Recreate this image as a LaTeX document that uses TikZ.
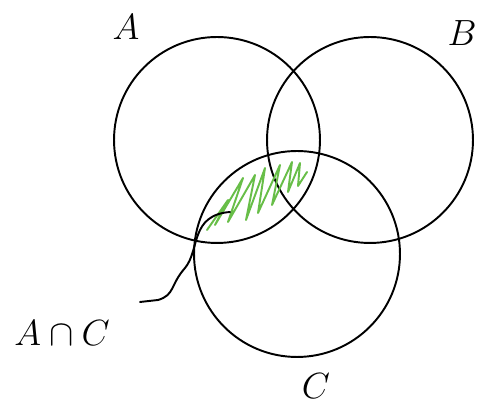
\documentclass[tikz,border=0pt]{standalone}
\usetikzlibrary{positioning}
\definecolor{hatchgreen}{RGB}{104,190,72}

\begin{document}
\begin{tikzpicture}[
    x=0.02cm, y=-0.02cm,
    setcirc/.style={draw, circle, line width=1.1pt, minimum size=4.12cm, inner sep=0pt},
    setlabel/.style={font=\fontsize{22}{24}\selectfont, inner sep=0pt},
    hatch/.style={draw=hatchgreen, line width=1.1pt, line join=round, line cap=round},
    pointer/.style={line width=1.1pt, line cap=round}
  ]
    \useasboundingbox (0,0) rectangle (477,404);

    % the three sets
    \node[setcirc] (A) at (217,140) {};
    \node[setcirc] (B) at (370,140) {};
    \node[setcirc] (C) at (297,254) {};

    \node[setlabel] (labA) at (126,27) {$A$};
    \node[setlabel] (labB) at (462,33) {$B$};
    \node[setlabel] (labC) at (316,386) {$C$};
    \node[setlabel] (labAC) at (62,333) {$A\cap C$};

    % shading of A cap C
    \draw[hatch] (207,230) -- (228,200) -- (215,225) -- (243,178) -- (228,222)
      -- (255,175) -- (246,220) -- (265,168) -- (258,213) -- (280,165)
      -- (272,205) -- (292,162) -- (288,192) -- (300,163) -- (298,186) -- (307,172);

    \coordinate (tip) at (230,212);
    \draw[pointer] (140,302) -- (158,300) .. controls (175,295) and (170,285) .. (185,268)
      .. controls (200,250) and (190,215) .. (tip);
\end{tikzpicture}
\end{document}
